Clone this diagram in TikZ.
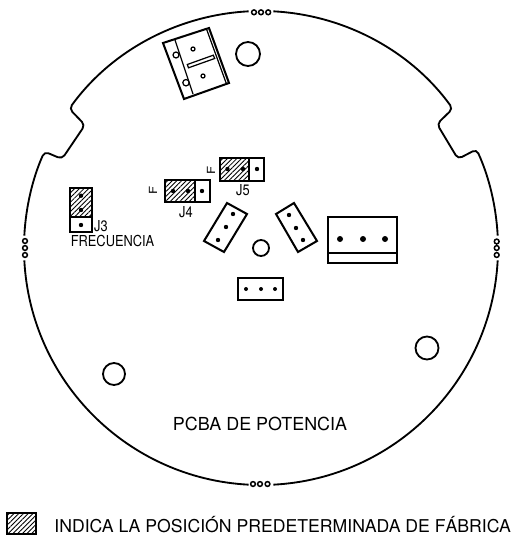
\documentclass[tikz,border=0pt]{standalone}
\usepackage{fontspec}
\setmainfont{TeX Gyre Heros}
\usetikzlibrary{patterns.meta}
\tikzset{
    rim/.style={line width=1.05pt,rounded corners=2.5pt},
    part/.style={line width=1.15pt},
    ring/.style={line width=0.85pt},
    hole/.style={line width=1.05pt},
    thinpart/.style={line width=0.7pt},
    pin/.style={fill=black},
    hatched/.style={pattern={Lines[angle=45,distance=1.9pt,line width=0.5pt]}},
    boardtext/.style={inner sep=0pt,font=\fontsize{10.05}{12}\selectfont},
    smalltext/.style={inner sep=0pt,xscale=0.85,font=\fontsize{8.6}{10}\selectfont}
}
\begin{document}
\begin{tikzpicture}[x=0.02cm,y=-0.02cm]
    \useasboundingbox (0,0) rectangle (513,537);
    \coordinate (cen) at (261,248);

    % board outline
    \draw[rim] ([shift={(183:237)}]cen) arc[start angle=183,end angle=204,radius=237]
        -- (62,159) -- (85,125) -- ([shift={(216:237)}]cen)
        arc[start angle=216,end angle=267,radius=237];
    \draw[rim] ([shift={(273:237)}]cen) arc[start angle=273,end angle=324,radius=237]
        -- (437,124) -- (458,159) -- ([shift={(335.4:237)}]cen)
        arc[start angle=335.4,end angle=357,radius=237];
    \draw[rim] ([shift={(3:237)}]cen) arc[start angle=3,end angle=87,radius=237];
    \draw[rim] ([shift={(93:237)}]cen) arc[start angle=93,end angle=177,radius=237];

    % rings on the rim
    \draw[ring] (254,12.3) circle[radius=2.4] (261,12.3) circle[radius=2.4] (268.2,12.3) circle[radius=2.4];
    \draw[ring] (253,484) circle[radius=2.4] (260,484) circle[radius=2.4] (267.5,484) circle[radius=2.4];
    \draw[ring] (25,241) circle[radius=2.4] (25,248) circle[radius=2.4] (25,255) circle[radius=2.4];
    \draw[ring] (496.7,241.5) circle[radius=2.4] (496.7,248) circle[radius=2.4] (496.7,255) circle[radius=2.4];

    % mounting holes
    \draw[hole] (248,54) circle[radius=12];
    \draw[hole] (261,248) circle[radius=8];
    \draw[hole] (114,374) circle[radius=11];
    \draw[hole] (427,348) circle[radius=11.5];

    % top terminal block
    \draw[part] (163,43) -- (209,28) -- (229,83) -- (184,99) -- cycle;
    \draw[thinpart] (175,40) -- (193,94);
    \draw[thinpart] (206.5,29) -- (226.5,84);
    \draw[thinpart] (176,55) circle[radius=3] (186,82.7) circle[radius=3.2];
    \draw[thinpart] (193,49) circle[radius=2] (203,76) circle[radius=2];
    \draw[thinpart] (187.3,64.5) -- (213.3,55.2) -- (214.7,58.5) -- (188.5,67.8) -- cycle;

    % J3
    \draw[hatched] (70,188) rectangle (92,217);
    \draw[part] (70,188) rectangle (92,232);
    \draw[part] (70,217) -- (92,217);
    \fill[pin] (81,195.7) circle[radius=2.2] (81,210) circle[radius=2.2] (81,225) circle[radius=2.2];
    \node[smalltext] (labJ3) at (101,226) {J3};
    \node[smalltext] (labfreq) at (112.5,241) {FRECUENCIA};

    % J4
    \draw[hatched] (165,180) rectangle (195,202);
    \draw[part] (165,180) rectangle (210,202);
    \draw[part] (195,180) -- (195,202);
    \fill[pin] (173,191) circle[radius=2.2] (188,191) circle[radius=2.2] (202,191) circle[radius=2.2];
    \node[smalltext] (labJ4) at (186,212) {J4};
    \node[smalltext,font=\fontsize{7.5}{8}\selectfont,rotate=90] (labF4) at (153,190) {F};

    % J5
    \draw[hatched] (220,158) rectangle (249,181);
    \draw[part] (220,158) rectangle (264,181);
    \draw[part] (249,158) -- (249,181);
    \fill[pin] (227.5,169) circle[radius=2.2] (243,169) circle[radius=2.2] (257,169) circle[radius=2.2];
    \node[smalltext] (labJ5) at (243,190) {J5};
    \node[smalltext,font=\fontsize{7.5}{8}\selectfont,rotate=90] (labF5) at (211,170) {F};

    % three pin headers
    \draw[part] (227,203) -- (247,214) -- (224,252) -- (204,241) -- cycle;
    \fill[pin] (233,214) circle[radius=2.2] (226,227) circle[radius=2.2] (218,240) circle[radius=2.2];
    \draw[part] (294,203) -- (276,214) -- (298,252) -- (317,241) -- cycle;
    \fill[pin] (289,215) circle[radius=2.2] (296,228) circle[radius=2.2] (303,240) circle[radius=2.2];
    \draw[part] (238,278) rectangle (283,300);
    \fill[pin] (246,289) circle[radius=2] (261,289) circle[radius=2] (275,289) circle[radius=2];

    % large connector
    \draw[part] (328,217) rectangle (397,263);
    \draw[thinpart] (328,253) -- (397,253);
    \fill[pin] (340,239) circle[radius=3] (363,239) circle[radius=3] (385,239) circle[radius=3];

    \node[boardtext,font=\fontsize{10.2}{12}\selectfont] (labboard) at (260,424) {PCBA DE POTENCIA};

    % legend
    \draw[hatched,line width=0.6pt] (7,513) rectangle (36,534);
    \node[boardtext,anchor=west] (lablegend) at (54,525) {INDICA LA POSICIÓN PREDETERMINADA DE FÁBRICA};
\end{tikzpicture}
\end{document}
